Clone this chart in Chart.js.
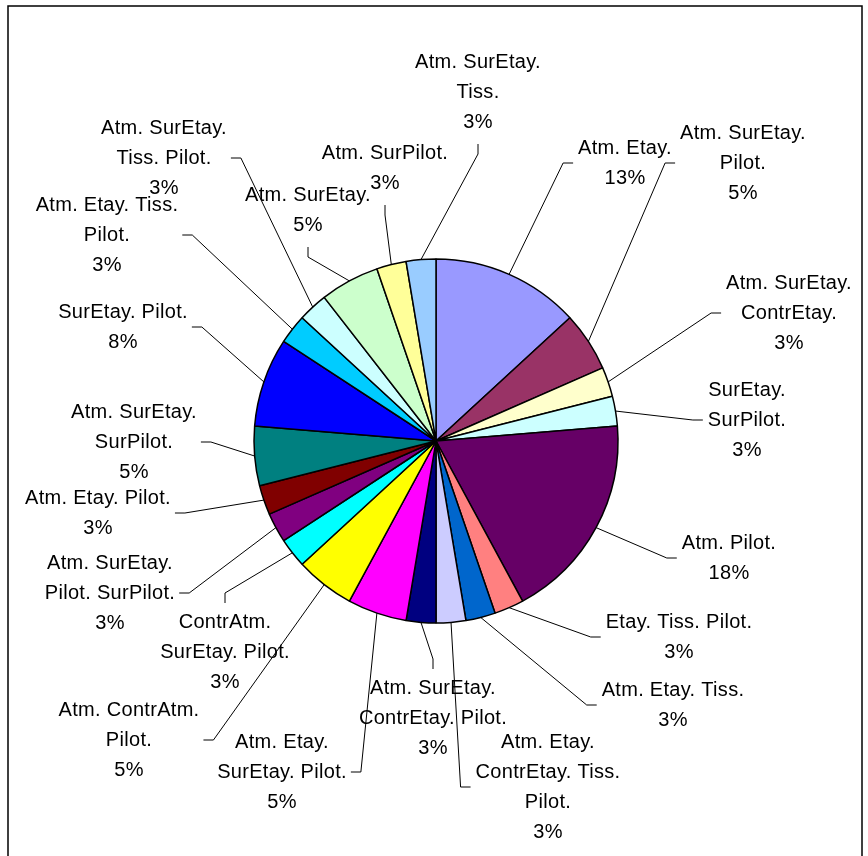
<!DOCTYPE html>
<html>
<head>
<meta charset="utf-8">
<title>Répartition</title>
<script src="https://cdn.jsdelivr.net/npm/chart.js@4/dist/chart.umd.min.js"></script>
<style>
  html, body { margin: 0; padding: 0; background: #fff; }
  #wrap { position: relative; width: 868px; height: 856px; }
</style>
</head>
<body>
<div id="wrap"><canvas id="pie-chart" width="868" height="856"></canvas></div>
<script>
/* ============================================================================
   PIE CHART - category shares with Excel-style leader-line labels
============================================================================ */

/* ===================== DATA ===================== */

const categories = [
  "Atm. Etay.",
  "Atm. SurEtay. Pilot.",
  "Atm. SurEtay. ContrEtay.",
  "SurEtay. SurPilot.",
  "Atm. Pilot.",
  "Etay. Tiss. Pilot.",
  "Atm. Etay. Tiss.",
  "Atm. Etay. ContrEtay. Tiss. Pilot.",
  "Atm. SurEtay. ContrEtay. Pilot.",
  "Atm. Etay. SurEtay. Pilot.",
  "Atm. ContrAtm. Pilot.",
  "ContrAtm. SurEtay. Pilot.",
  "Atm. SurEtay. Pilot. SurPilot.",
  "Atm. Etay. Pilot.",
  "Atm. SurEtay. SurPilot.",
  "SurEtay. Pilot.",
  "Atm. Etay. Tiss. Pilot.",
  "Atm. SurEtay. Tiss. Pilot.",
  "Atm. SurEtay.",
  "Atm. SurPilot.",
  "Atm. SurEtay. Tiss.",
];

const counts = [5, 2, 1, 1, 7, 1, 1, 1, 1, 2, 2, 1, 1, 1, 2, 3, 1, 1, 2, 1, 1];

/* ===================== COLOR PALETTE ===================== */

const SLICE_COLORS = [
  "#9999FF", "#993366", "#FFFFCC", "#CCFFFF", "#660066", "#FF8080",
  "#0066CC", "#CCCCFF", "#000080", "#FF00FF", "#FFFF00", "#00FFFF",
  "#800080", "#800000", "#008080", "#0000FF", "#00CCFF", "#CCFFFF",
  "#CCFFCC", "#FFFF99", "#99CCFF",
];

/* ===================== LABEL LAYOUT ===================== */
// [center x, first line y, side the leader leaves from, words per line]

const LABEL_LAYOUT = [
  [625, 148, "L", [2]],
  [743, 133, "L", [2, 1]],
  [789, 283, "L", [2, 1]],
  [747, 390, "L", [1, 1]],
  [729, 543, "L", [2]],
  [679, 622, "L", [3]],
  [673, 690, "L", [3]],
  [548, 742, "L", [2, 2, 1]],
  [433, 688, "T", [2, 2]],
  [282, 742, "R", [2, 2]],
  [129, 710, "R", [2, 1]],
  [225, 622, "T", [1, 2]],
  [110, 563, "R", [2, 2]],
  [98, 498, "R", [3]],
  [134, 412, "R", [2, 1]],
  [123, 312, "R", [2]],
  [107, 205, "R", [3, 1]],
  [164, 128, "R", [2, 2]],
  [308, 195, "B", [2]],
  [385, 153, "B", [2]],
  [478, 62, "B", [2, 1]],
];

const FONT = "20px 'Liberation Sans', Arial, sans-serif";
const LINE_H = 30;
const TICK = 10;

/* ===================== HELPERS ===================== */

function wrapLines(name, split) {
  const words = name.split(" ");
  const lines = [];
  let k = 0;
  split.forEach((n) => {
    lines.push(words.slice(k, k + n).join(" "));
    k += n;
  });
  return lines;
}

const total = counts.reduce((a, b) => a + b, 0);

/* ===================== PLUGINS ===================== */

const framePlugin = {
  id: "frame",
  afterDraw(chart) {
    const ctx = chart.ctx;
    ctx.save();
    ctx.strokeStyle = "#000";
    ctx.lineWidth = 1.5;
    ctx.strokeRect(8, 6, 854, 880);
    ctx.restore();
  },
};

const leaderLabelPlugin = {
  id: "leaderLabels",
  afterDatasetsDraw(chart) {
    const ctx = chart.ctx;
    const meta = chart.getDatasetMeta(0);

    ctx.save();
    ctx.font = FONT;
    if ("letterSpacing" in ctx) ctx.letterSpacing = "0.3px";
    ctx.fillStyle = "#000";
    ctx.strokeStyle = "#000";
    ctx.lineWidth = 1;
    ctx.textAlign = "center";
    ctx.textBaseline = "middle";

    meta.data.forEach((arc, i) => {
      const [cx, y1, side, split] = LABEL_LAYOUT[i];
      const p = arc.getProps(["x", "y", "startAngle", "endAngle", "outerRadius"], true);
      const mid = (p.startAngle + p.endAngle) / 2;
      const px = p.x + Math.cos(mid) * p.outerRadius;
      const py = p.y + Math.sin(mid) * p.outerRadius;

      const pct = Math.round((counts[i] / total) * 100) + "%";
      const lines = wrapLines(categories[i], split).concat([pct]);
      const widest = Math.max(...lines.map((l) => ctx.measureText(l).width));
      const yLast = y1 + (lines.length - 1) * LINE_H;

      lines.forEach((l, j) => ctx.fillText(l, cx, y1 + j * LINE_H));

      let ax, ay, bx, by;
      if (side === "L") {
        ax = cx - widest / 2 - 5; ay = (y1 + yLast) / 2;
        bx = ax - TICK; by = ay;
      } else if (side === "R") {
        ax = cx + widest / 2 + 4; ay = (y1 + yLast) / 2;
        bx = ax + TICK; by = ay;
      } else if (side === "T") {
        ax = cx; ay = y1 - 19;
        bx = ax; by = ay - TICK;
      } else {
        ax = cx; ay = yLast + 22;
        bx = ax; by = ay + TICK;
      }

      ctx.beginPath();
      ctx.moveTo(ax, ay);
      ctx.lineTo(bx, by);
      ctx.lineTo(px, py);
      ctx.stroke();
    });

    ctx.restore();
  },
};

/* ===================== CHART ===================== */

new Chart(document.getElementById("pie-chart"), {
  type: "pie",
  data: {
    labels: categories,
    datasets: [
      {
        data: counts,
        backgroundColor: SLICE_COLORS,
        borderColor: "#000",
        borderWidth: 1.5,
      },
    ],
  },
  options: {
    responsive: false,
    animation: false,
    radius: 182,
    layout: {
      padding: { top: 259, bottom: 233, left: 254, right: 250 },
    },
    plugins: {
      legend: { display: false },
      tooltip: { enabled: false },
    },
  },
  plugins: [leaderLabelPlugin, framePlugin],
});
</script>
</body>
</html>
